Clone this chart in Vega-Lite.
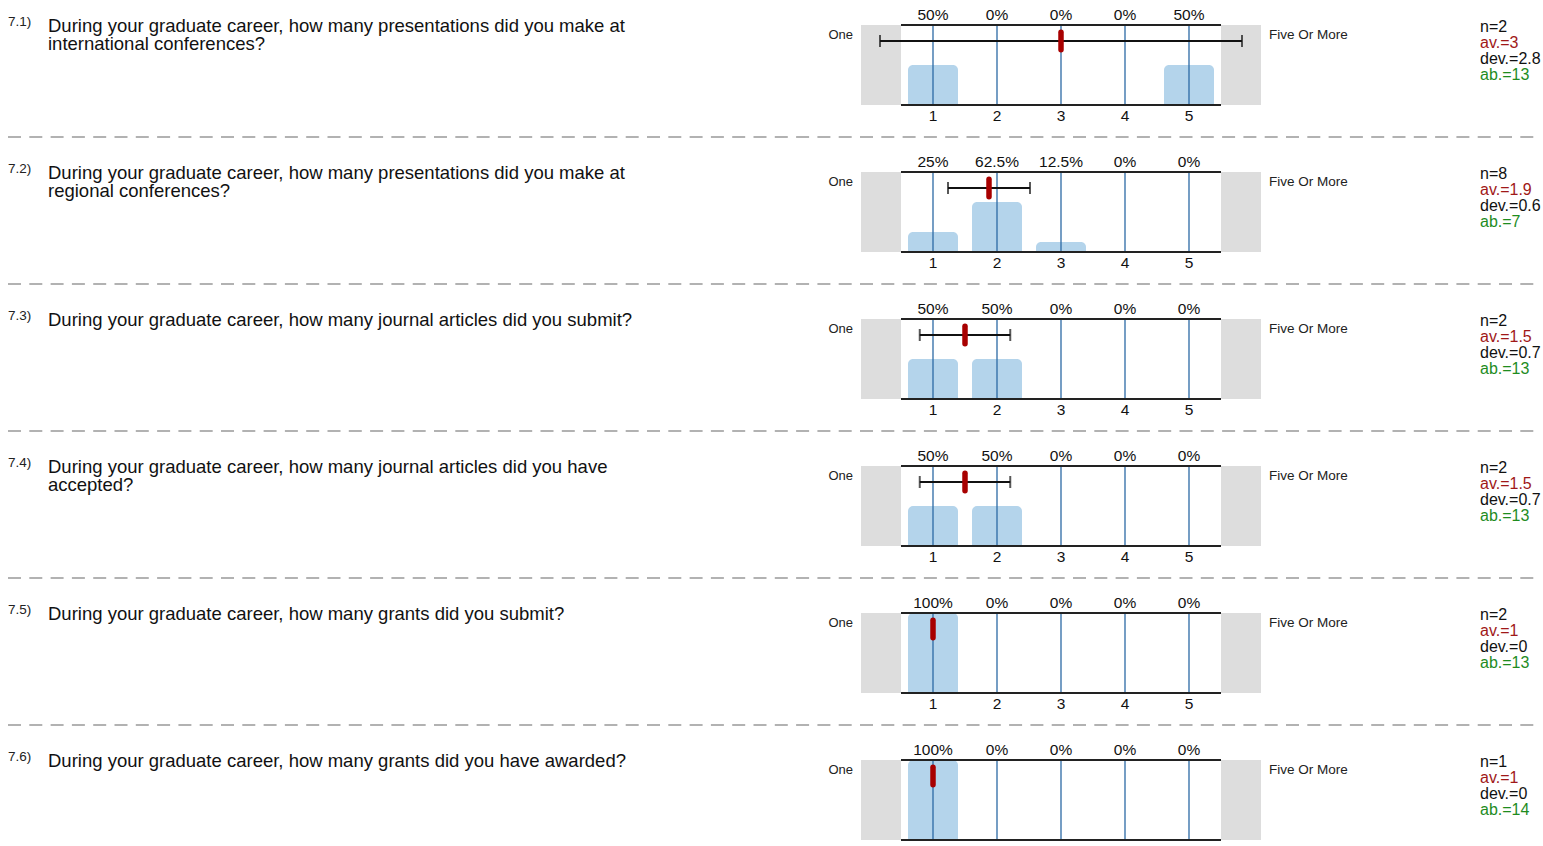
{
  "$schema": "https://vega.github.io/schema/vega-lite/v6.json",
  "padding": 0,
  "background": "white",
  "config": {"view": {"stroke": null}, "font": "Liberation Sans", "text": {"font": "Liberation Sans"}},
  "datasets": {
    "questions": [
      {"q": "7.1", "label": "7.1)", "question": "During your graduate career, how many presentations did you make at\ninternational conferences?", "n": 2, "mean": 3, "dev": 2.828, "ab": 13},
      {"q": "7.2", "label": "7.2)", "question": "During your graduate career, how many presentations did you make at\nregional conferences?", "n": 8, "mean": 1.875, "dev": 0.641, "ab": 7},
      {"q": "7.3", "label": "7.3)", "question": "During your graduate career, how many journal articles did you submit?", "n": 2, "mean": 1.5, "dev": 0.707, "ab": 13},
      {"q": "7.4", "label": "7.4)", "question": "During your graduate career, how many journal articles did you have\naccepted?", "n": 2, "mean": 1.5, "dev": 0.707, "ab": 13},
      {"q": "7.5", "label": "7.5)", "question": "During your graduate career, how many grants did you submit?", "n": 2, "mean": 1, "dev": 0, "ab": 13},
      {"q": "7.6", "label": "7.6)", "question": "During your graduate career, how many grants did you have awarded?", "n": 1, "mean": 1, "dev": 0, "ab": 14}
    ]
  },
  "data": {"values": [
    {"q": "7.1", "score": 1, "pct": 0.5}, {"q": "7.1", "score": 2, "pct": 0}, {"q": "7.1", "score": 3, "pct": 0}, {"q": "7.1", "score": 4, "pct": 0}, {"q": "7.1", "score": 5, "pct": 0.5},
    {"q": "7.2", "score": 1, "pct": 0.25}, {"q": "7.2", "score": 2, "pct": 0.625}, {"q": "7.2", "score": 3, "pct": 0.125}, {"q": "7.2", "score": 4, "pct": 0}, {"q": "7.2", "score": 5, "pct": 0},
    {"q": "7.3", "score": 1, "pct": 0.5}, {"q": "7.3", "score": 2, "pct": 0.5}, {"q": "7.3", "score": 3, "pct": 0}, {"q": "7.3", "score": 4, "pct": 0}, {"q": "7.3", "score": 5, "pct": 0},
    {"q": "7.4", "score": 1, "pct": 0.5}, {"q": "7.4", "score": 2, "pct": 0.5}, {"q": "7.4", "score": 3, "pct": 0}, {"q": "7.4", "score": 4, "pct": 0}, {"q": "7.4", "score": 5, "pct": 0},
    {"q": "7.5", "score": 1, "pct": 1}, {"q": "7.5", "score": 2, "pct": 0}, {"q": "7.5", "score": 3, "pct": 0}, {"q": "7.5", "score": 4, "pct": 0}, {"q": "7.5", "score": 5, "pct": 0},
    {"q": "7.6", "score": 1, "pct": 1}, {"q": "7.6", "score": 2, "pct": 0}, {"q": "7.6", "score": 3, "pct": 0}, {"q": "7.6", "score": 4, "pct": 0}, {"q": "7.6", "score": 5, "pct": 0}
  ]},
  "transform": [
    {"lookup": "q", "from": {"data": {"name": "questions"}, "key": "q", "fields": ["label", "question", "n", "mean", "dev", "ab"]}}
  ],
  "facet": {"row": {"field": "q", "type": "nominal", "sort": "ascending", "header": {"labels": false, "title": null, "labelPadding": 0, "titlePadding": 0}}},
  "spacing": {"row": 0},
  "bounds": "flush",
  "spec": {
    "width": 1543,
    "height": 146.8,
    "layer": [
      {
        "transform": [{"filter": "datum.score == 1"}],
        "mark": {"type": "rect", "color": "#dddddd"},
        "encoding": {
          "x": {"datum": -0.125, "type": "quantitative", "scale": {"domain": [-13.5, 10.453125], "nice": false, "zero": false}, "axis": null},
          "x2": {"datum": 0.5},
          "y": {"datum": 0, "type": "quantitative", "scale": {"domain": [-0.5225, 1.3125], "nice": false, "zero": false}, "axis": null},
          "y2": {"datum": 1}
        }
      },
      {
        "transform": [{"filter": "datum.score == 1"}],
        "mark": {"type": "rect", "color": "#dddddd"},
        "encoding": {
          "x": {"datum": 5.5, "type": "quantitative", "scale": {"domain": [-13.5, 10.453125], "nice": false, "zero": false}, "axis": null},
          "x2": {"datum": 6.125},
          "y": {"datum": 0, "type": "quantitative", "scale": {"domain": [-0.5225, 1.3125], "nice": false, "zero": false}, "axis": null},
          "y2": {"datum": 1}
        }
      },
      {
        "mark": {"type": "bar", "color": "#b4d4eb", "width": 50, "cornerRadiusTopLeft": 5, "cornerRadiusTopRight": 5},
        "encoding": {
          "x": {"field": "score", "type": "quantitative", "scale": {"domain": [-13.5, 10.453125], "nice": false, "zero": false}, "axis": null},
          "y": {"field": "pct", "type": "quantitative", "scale": {"domain": [-0.5225, 1.3125], "nice": false, "zero": false}, "axis": null},
          "y2": {"datum": 0}
        }
      },
      {
        "mark": {"type": "rule", "color": "#2c69a5", "strokeWidth": 1.3},
        "encoding": {
          "x": {"field": "score", "type": "quantitative", "scale": {"domain": [-13.5, 10.453125], "nice": false, "zero": false}, "axis": null},
          "y": {"datum": 0, "type": "quantitative", "scale": {"domain": [-0.5225, 1.3125], "nice": false, "zero": false}, "axis": null},
          "y2": {"datum": 1}
        }
      },
      {
        "transform": [{"filter": "datum.score == 1"}],
        "mark": {"type": "rule", "color": "#222222", "strokeWidth": 2},
        "encoding": {
          "x": {"datum": 0.5, "type": "quantitative", "scale": {"domain": [-13.5, 10.453125], "nice": false, "zero": false}, "axis": null},
          "x2": {"datum": 5.5},
          "y": {"datum": 1, "type": "quantitative", "scale": {"domain": [-0.5225, 1.3125], "nice": false, "zero": false}, "axis": null}
        }
      },
      {
        "transform": [{"filter": "datum.score == 1"}],
        "mark": {"type": "rule", "color": "#222222", "strokeWidth": 2},
        "encoding": {
          "x": {"datum": 0.5, "type": "quantitative", "scale": {"domain": [-13.5, 10.453125], "nice": false, "zero": false}, "axis": null},
          "x2": {"datum": 5.5},
          "y": {"datum": 0, "type": "quantitative", "scale": {"domain": [-0.5225, 1.3125], "nice": false, "zero": false}, "axis": null}
        }
      },
      {
        "mark": {"type": "text", "fontSize": 15.5, "color": "#111111", "baseline": "alphabetic", "align": "center"},
        "encoding": {
          "x": {"field": "score", "type": "quantitative", "scale": {"domain": [-13.5, 10.453125], "nice": false, "zero": false}, "axis": null},
          "y": {"datum": 1.0625, "type": "quantitative", "scale": {"domain": [-0.5225, 1.3125], "nice": false, "zero": false}, "axis": null},
          "text": {"field": "pct", "type": "quantitative", "format": ".1~%"}
        }
      },
      {
        "mark": {"type": "text", "fontSize": 15.5, "color": "#111111", "baseline": "alphabetic", "align": "center"},
        "encoding": {
          "x": {"field": "score", "type": "quantitative", "scale": {"domain": [-13.5, 10.453125], "nice": false, "zero": false}, "axis": null},
          "y": {"datum": -0.2, "type": "quantitative", "scale": {"domain": [-0.5225, 1.3125], "nice": false, "zero": false}, "axis": null},
          "text": {"field": "score", "type": "quantitative"}
        }
      },
      {
        "transform": [{"filter": "datum.score == 1"}],
        "mark": {"type": "errorbar", "ticks": {"size": 12, "thickness": 2, "color": "#111111"}, "rule": {"strokeWidth": 2, "color": "#111111"}},
        "encoding": {
          "x": {"field": "mean", "type": "quantitative", "scale": {"domain": [-13.5, 10.453125], "nice": false, "zero": false}, "axis": null},
          "xError": {"field": "dev"},
          "y": {"datum": 0.8, "type": "quantitative", "scale": {"domain": [-0.5225, 1.3125], "nice": false, "zero": false}, "axis": null}
        }
      },
      {
        "transform": [{"filter": "datum.score == 1"}],
        "mark": {"type": "rule", "color": "#a80000", "strokeWidth": 5.5, "strokeCap": "round"},
        "encoding": {
          "x": {"field": "mean", "type": "quantitative", "scale": {"domain": [-13.5, 10.453125], "nice": false, "zero": false}, "axis": null},
          "y": {"datum": 0.691, "type": "quantitative", "scale": {"domain": [-0.5225, 1.3125], "nice": false, "zero": false}, "axis": null},
          "y2": {"datum": 0.909}
        }
      },
      {
        "transform": [{"filter": "datum.score == 1"}],
        "mark": {"type": "text", "fontSize": 13, "color": "#222222", "baseline": "alphabetic", "align": "right", "text": "One"},
        "encoding": {
          "x": {"datum": -0.25, "type": "quantitative", "scale": {"domain": [-13.5, 10.453125], "nice": false, "zero": false}, "axis": null},
          "y": {"datum": 0.825, "type": "quantitative", "scale": {"domain": [-0.5225, 1.3125], "nice": false, "zero": false}, "axis": null}
        }
      },
      {
        "transform": [{"filter": "datum.score == 1"}],
        "mark": {"type": "text", "fontSize": 13.5, "color": "#222222", "baseline": "alphabetic", "align": "left", "text": "Five Or More"},
        "encoding": {
          "x": {"datum": 6.25, "type": "quantitative", "scale": {"domain": [-13.5, 10.453125], "nice": false, "zero": false}, "axis": null},
          "y": {"datum": 0.825, "type": "quantitative", "scale": {"domain": [-0.5225, 1.3125], "nice": false, "zero": false}, "axis": null}
        }
      },
      {
        "transform": [{"filter": "datum.score == 1"}],
        "mark": {"type": "text", "fontSize": 13.5, "color": "#222222", "baseline": "alphabetic", "align": "left"},
        "encoding": {
          "x": {"datum": -13.453125, "type": "quantitative", "scale": {"domain": [-13.5, 10.453125], "nice": false, "zero": false}, "axis": null},
          "y": {"datum": 0.9875, "type": "quantitative", "scale": {"domain": [-0.5225, 1.3125], "nice": false, "zero": false}, "axis": null},
          "text": {"field": "label", "type": "nominal"}
        }
      },
      {
        "transform": [{"filter": "datum.score == 1"}],
        "mark": {"type": "text", "fontSize": 18.5, "color": "#111111", "baseline": "alphabetic", "align": "left", "lineBreak": "\n", "lineHeight": 18},
        "encoding": {
          "x": {"datum": -12.828125, "type": "quantitative", "scale": {"domain": [-13.5, 10.453125], "nice": false, "zero": false}, "axis": null},
          "y": {"datum": 0.9125, "type": "quantitative", "scale": {"domain": [-0.5225, 1.3125], "nice": false, "zero": false}, "axis": null},
          "text": {"field": "question", "type": "nominal"}
        }
      },
      {
        "transform": [{"filter": "datum.score == 1"}],
        "mark": {"type": "text", "fontSize": 16, "color": "#111111", "baseline": "alphabetic", "align": "left", "text": {"expr": "'n=' + datum.n"}},
        "encoding": {
          "x": {"datum": 9.546875, "type": "quantitative", "scale": {"domain": [-13.5, 10.453125], "nice": false, "zero": false}, "axis": null},
          "y": {"datum": 0.9125, "type": "quantitative", "scale": {"domain": [-0.5225, 1.3125], "nice": false, "zero": false}, "axis": null}
        }
      },
      {
        "transform": [{"filter": "datum.score == 1"}],
        "mark": {"type": "text", "fontSize": 16, "color": "#a01818", "baseline": "alphabetic", "align": "left", "text": {"expr": "'av.=' + format(datum.mean, '.1~f')"}},
        "encoding": {
          "x": {"datum": 9.546875, "type": "quantitative", "scale": {"domain": [-13.5, 10.453125], "nice": false, "zero": false}, "axis": null},
          "y": {"datum": 0.7125, "type": "quantitative", "scale": {"domain": [-0.5225, 1.3125], "nice": false, "zero": false}, "axis": null}
        }
      },
      {
        "transform": [{"filter": "datum.score == 1"}],
        "mark": {"type": "text", "fontSize": 16, "color": "#111111", "baseline": "alphabetic", "align": "left", "text": {"expr": "'dev.=' + format(datum.dev, '.1~f')"}},
        "encoding": {
          "x": {"datum": 9.546875, "type": "quantitative", "scale": {"domain": [-13.5, 10.453125], "nice": false, "zero": false}, "axis": null},
          "y": {"datum": 0.5125, "type": "quantitative", "scale": {"domain": [-0.5225, 1.3125], "nice": false, "zero": false}, "axis": null}
        }
      },
      {
        "transform": [{"filter": "datum.score == 1"}],
        "mark": {"type": "text", "fontSize": 16, "color": "#1e8c1e", "baseline": "alphabetic", "align": "left", "text": {"expr": "'ab.=' + datum.ab"}},
        "encoding": {
          "x": {"datum": 9.546875, "type": "quantitative", "scale": {"domain": [-13.5, 10.453125], "nice": false, "zero": false}, "axis": null},
          "y": {"datum": 0.3125, "type": "quantitative", "scale": {"domain": [-0.5225, 1.3125], "nice": false, "zero": false}, "axis": null}
        }
      },
      {
        "transform": [{"filter": "datum.score == 1"}],
        "mark": {"type": "rule", "color": "#999999", "strokeWidth": 1.5, "strokeDash": [13, 8.3]},
        "encoding": {
          "x": {"datum": -13.453125, "type": "quantitative", "scale": {"domain": [-13.5, 10.453125], "nice": false, "zero": false}, "axis": null},
          "x2": {"datum": 10.421875},
          "y": {"datum": -0.4, "type": "quantitative", "scale": {"domain": [-0.5225, 1.3125], "nice": false, "zero": false}, "axis": null}
        }
      }
    ]
  }
}
